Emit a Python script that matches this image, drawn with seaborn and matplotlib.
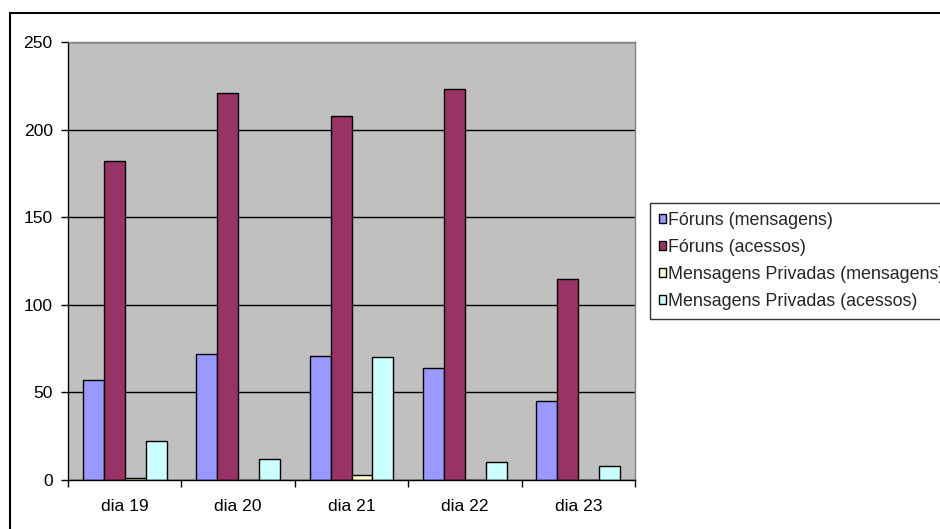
import matplotlib
matplotlib.use("Agg")
import matplotlib.pyplot as plt
from matplotlib.patches import Rectangle
import pandas as pd
import seaborn as sns

# Daily activity counts per channel
dias = ["dia 19", "dia 20", "dia 21", "dia 22", "dia 23"]
foruns_mensagens = [57, 72, 71, 64, 45]
foruns_acessos = [182, 221, 208, 223, 115]
privadas_mensagens = [1, 0, 3, 0, 0]
privadas_acessos = [22, 12, 70, 10, 8]

series_names = [
    "Fóruns (mensagens)",
    "Fóruns (acessos)",
    "Mensagens Privadas (mensagens)",
    "Mensagens Privadas (acessos)",
]
series_values = [foruns_mensagens, foruns_acessos, privadas_mensagens, privadas_acessos]
colors = ["#9999FF", "#993366", "#FFFFCC", "#CCFFFF"]

rows = []
for name, vals in zip(series_names, series_values):
    for d, v in zip(dias, vals):
        rows.append({"dia": d, "valor": v, "serie": name})
df = pd.DataFrame(rows)

sns.set_style("white")
plt.rcParams["font.family"] = ["Liberation Sans", "DejaVu Sans"]
FS = 12.6

fig = plt.figure(figsize=(9.4, 5.29), dpi=100)
ax = fig.add_axes([68 / 940, 1 - 480 / 529, (635 - 68) / 940, (480 - 42) / 529])
ax.set_facecolor("#C0C0C0")

sns.barplot(
    data=df, x="dia", y="valor", hue="serie", order=dias, hue_order=series_names,
    palette=colors, width=0.74, gap=0, edgecolor="black", linewidth=1.0,
    saturation=1, ax=ax, legend=True,
)

ax.set_xlim(-0.5, len(dias) - 0.5)
ax.set_ylim(0, 250)
ax.set_yticks([0, 50, 100, 150, 200, 250])
ax.yaxis.grid(True, color="black", linewidth=1.0)
ax.set_axisbelow(True)
ax.set_xlabel("")
ax.set_ylabel("")

# category ticks sit between the groups
ax.set_xticks([i - 0.5 for i in range(len(dias) + 1)], minor=True)
ax.tick_params(axis="x", which="major", length=0, pad=14, labelsize=FS, colors="black")
ax.tick_params(axis="x", which="minor", length=5, width=1, color="black", direction="out", bottom=True)
ax.tick_params(axis="y", which="major", length=5, width=1, color="black", direction="out",
               left=True, pad=6, labelsize=FS, labelcolor="black")

for side in ["left", "bottom"]:
    ax.spines[side].set_color("black")
    ax.spines[side].set_linewidth(1.0)
for side in ["top", "right"]:
    ax.spines[side].set_visible(True)
    ax.spines[side].set_color("#808080")
    ax.spines[side].set_linewidth(1.0)

handles, labels = ax.get_legend_handles_labels()
ax.get_legend().remove()
leg = fig.legend(
    handles, labels, loc="upper left", bbox_to_anchor=(650 / 940, 1 - 203 / 529),
    frameon=True, fancybox=False, fontsize=12.9, handlelength=0.42, handleheight=0.42,
    handletextpad=0.1, labelspacing=0.56, borderpad=0.5, borderaxespad=0,
)
leg.get_frame().set_edgecolor("black")
leg.get_frame().set_linewidth(1.0)
leg.get_frame().set_facecolor("white")

# outer chart frame
fig.patches.append(Rectangle((10 / 940, -0.2), 1.5, 1 - 13 / 529 + 0.2, transform=fig.transFigure,
                             fill=False, edgecolor="black", linewidth=1.5))

fig.savefig("out.png", dpi=100)
